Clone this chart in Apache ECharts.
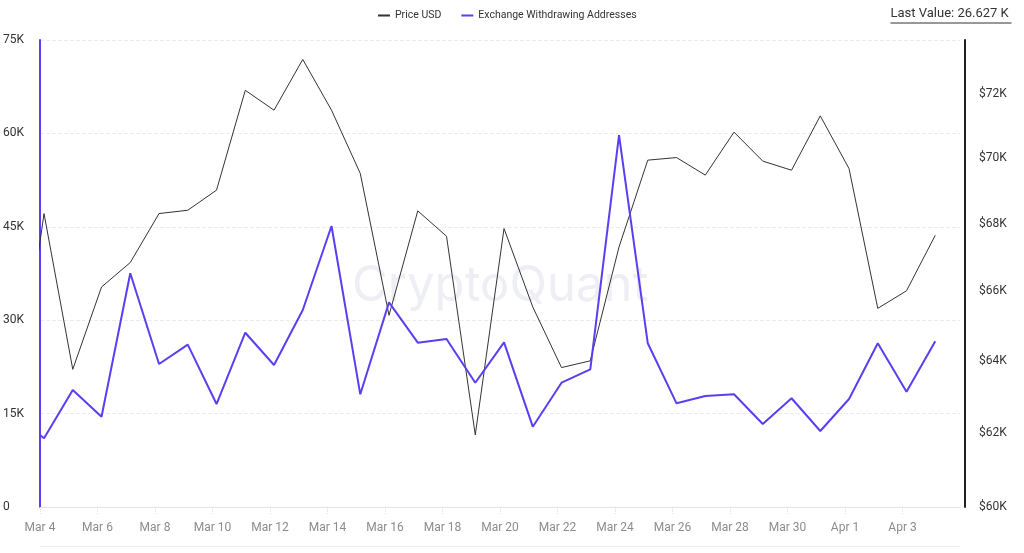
<!DOCTYPE html>
<html>
<head>
<meta charset="utf-8">
<title>Price USD vs Exchange Withdrawing Addresses</title>
<script src="https://cdn.jsdelivr.net/npm/echarts@6/dist/echarts.min.js"></script>
<style>
  html, body { margin: 0; padding: 0; background: #fff; }
  #chart { width: 1024px; height: 553px; }
</style>
</head>
<body>
<div id="chart"></div>
<script>
// daily samples, Mar 3 .. Apr 4 (Mar 3 only peeks in at the left edge)
var days = ['Mar 3', 'Mar 4', 'Mar 5', 'Mar 6', 'Mar 7', 'Mar 8', 'Mar 9', 'Mar 10', 'Mar 11',
  'Mar 12', 'Mar 13', 'Mar 14', 'Mar 15', 'Mar 16', 'Mar 17', 'Mar 18', 'Mar 19', 'Mar 20',
  'Mar 21', 'Mar 22', 'Mar 23', 'Mar 24', 'Mar 25', 'Mar 26', 'Mar 27', 'Mar 28', 'Mar 29',
  'Mar 30', 'Mar 31', 'Apr 1', 'Apr 2', 'Apr 3', 'Apr 4']
var priceUsd = [62500, 68300, 63760, 66120, 66840, 68300, 68400, 69010, 72120,
  71490, 73110, 71490, 69520, 65300, 68380, 67620, 61940, 67850,
  65540, 63810, 64000, 67300, 69930, 70010, 69470, 70800, 69900,
  69620, 71310, 69670, 65500, 66010, 67650]
var withdrawingAddresses = [14700, 11030, 18790, 14500, 37530, 22970, 26070, 16540, 27990,
  22810, 31640, 45130, 18100, 32870, 26390, 26980, 19960, 26450,
  12900, 19960, 22110, 59740, 26290, 16650, 17830, 18100, 13330,
  17460, 12210, 17340, 26290, 18520, 26627]
var dateTicks = ['Mar 4', 'Mar 6', 'Mar 8', 'Mar 10', 'Mar 12', 'Mar 14', 'Mar 16', 'Mar 18',
  'Mar 20', 'Mar 22', 'Mar 24', 'Mar 26', 'Mar 28', 'Mar 30', 'Apr 1', 'Apr 3']
var priceTicks = [60000, 62000, 64000, 66000, 68000, 70000, 72000]
var lastValueText = 'Last Value: 26.627 K'

// samples are stamped a few hours after local midnight
var sampleShift = 0.14
var blue = '#5a3ef2'
var dark = '#333333'

var chartEl = document.getElementById('chart')
var chart = echarts.init(chartEl, null, { renderer: 'canvas' })

// x is "days since Mar 4"
var dayPos = function (name) {
  return days.indexOf(name) - 1
}
var pricePoints = priceUsd.map(function (v, i) { return [i - 1 + sampleShift, v] })
var addrPoints = withdrawingAddresses.map(function (v, i) { return [i - 1 + sampleShift, v] })
var tickPos = dateTicks.map(dayPos)

var option = {
  animation: false,
  textStyle: { fontFamily: 'Roboto, "Liberation Sans", sans-serif' },
  legend: {
    left: 373,
    top: 5,
    icon: 'rect',
    itemWidth: 12,
    itemHeight: 2,
    itemGap: 20,
    textStyle: { fontSize: 10.5, color: '#333', fontFamily: '"Liberation Sans Narrow", Roboto, sans-serif' },
    data: ['Price USD', 'Exchange Withdrawing Addresses']
  },
  grid: { left: 40, right: 64, top: 40, bottom: 46, containLabel: false },
  xAxis: {
    type: 'value',
    min: 0,
    max: 32,
    axisLine: { show: true, lineStyle: { color: '#e4e4e8', width: 1 } },
    axisTick: { show: true, length: 8, customValues: tickPos, lineStyle: { color: '#dcdce2', type: 'dotted' } },
    axisLabel: {
      customValues: tickPos,
      margin: 15,
      fontSize: 12,
      color: '#8c8c8c',
      formatter: function (v) { return days[Math.round(v) + 1] }
    },
    splitLine: { show: false }
  },
  yAxis: [{
    type: 'value',
    position: 'left',
    offset: 4,
    min: 0,
    max: 75000,
    interval: 15000,
    axisLine: { show: true, lineStyle: { color: blue, width: 2 } },
    axisTick: { show: false },
    axisLabel: {
      align: 'left',
      margin: 33,
      fontSize: 12,
      color: '#333',
      formatter: function (v) { return v === 0 ? '0' : (v / 1000) + 'K' }
    },
    splitLine: { show: true, lineStyle: { color: '#ececf0', type: 'dashed' } }
  }, {
    type: 'log',
    position: 'right',
    offset: 5,
    min: 60000,
    max: 73740,
    axisLine: { show: true, lineStyle: { color: '#222', width: 2 } },
    axisTick: { show: false },
    axisLabel: {
      customValues: priceTicks,
      margin: 14,
      fontSize: 12,
      color: '#333',
      formatter: function (v) { return '$' + Math.round(v / 1000) + 'K' }
    },
    splitLine: { show: false }
  }],
  graphic: [{
    type: 'text',
    left: 352,
    top: 262,
    style: {
      x: 0, y: 0,
      text: 'CryptoQuant',
      fill: '#eeeef5',
      font: '400 49px Inter, Roboto, sans-serif'
    },
    z: 0
  }, {
    type: 'group',
    right: 10,
    top: 7,
    children: [{
      type: 'text',
      style: { x: 0, y: 0, text: lastValueText, fill: '#333', font: '13px Roboto, sans-serif' }
    }, {
      type: 'line',
      shape: { x1: 0, y1: 16, x2: 121, y2: 16 },
      style: { stroke: '#333', lineWidth: 1 }
    }]
  }, {
    type: 'line',
    shape: { x1: 40, y1: 546.5, x2: 960, y2: 546.5 },
    style: { stroke: '#eeeeee', lineWidth: 1 }
  }],
  series: [{
    name: 'Price USD',
    type: 'line',
    yAxisIndex: 1,
    showSymbol: false,
    symbol: 'none',
    color: dark,
    lineStyle: { color: dark, width: 1 },
    data: pricePoints
  }, {
    name: 'Exchange Withdrawing Addresses',
    type: 'line',
    yAxisIndex: 0,
    showSymbol: false,
    symbol: 'none',
    color: blue,
    lineStyle: { color: blue, width: 2 },
    data: addrPoints
  }]
}

chart.setOption(option, true)
</script>
</body>
</html>
